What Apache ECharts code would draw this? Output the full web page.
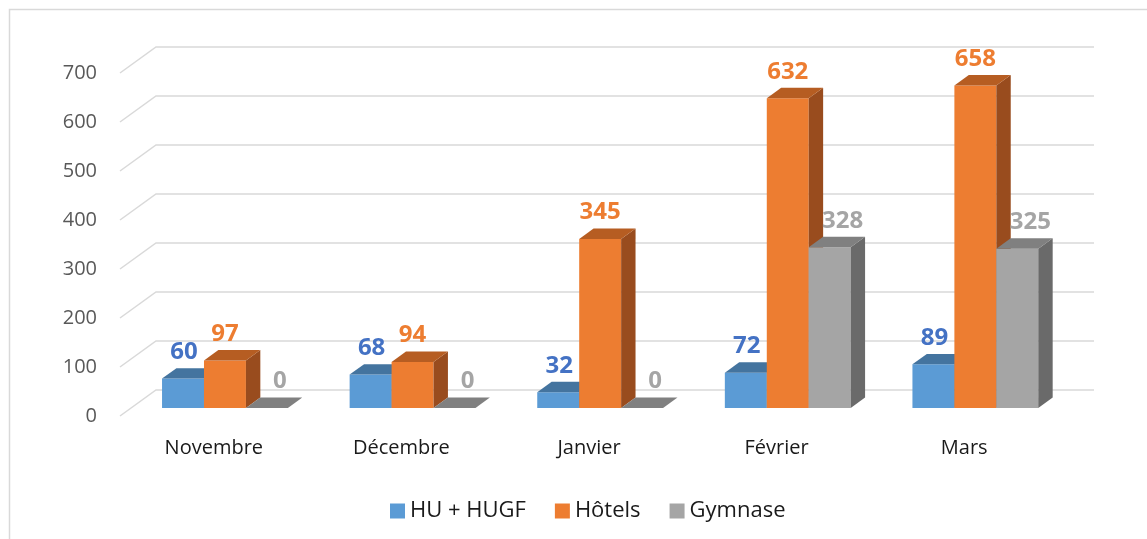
<!DOCTYPE html>
<html>
<head>
<meta charset="utf-8">
<script src="https://cdn.jsdelivr.net/npm/echarts@6/dist/echarts.min.js"></script>
<style>
html,body{margin:0;padding:0;background:#fff}
#main{width:1147px;height:539px}
</style>
</head>
<body>
<div id="main"></div>
<script>
// données
var months = ['Novembre', 'Décembre', 'Janvier', 'Février', 'Mars'];
var huHugf = [60, 68, 32, 72, 89];
var hotels = [97, 94, 345, 632, 658];
var gymnase = [0, 0, 0, 328, 325];
var yTicks = [0, 100, 200, 300, 400, 500, 600, 700];

// perspective (profondeur du plan arrière)
var DX = 36, DY = 26;
var F0 = 0.31;   // début des barres dans la profondeur
var FD = 0.40;   // épaisseur des barres
var BAR_W = 0.2236;

var font = '"Open Sans", sans-serif';

function gridRender(params, api) {
    var cs = params.coordSys;
    var p = api.coord([0, api.value(1)]);
    var x = cs.x, y = p[1];
    return {
        type: 'polyline',
        shape: { points: [[x, y], [x + DX, y - DY], [x + cs.width + DX, y - DY]] },
        style: { stroke: '#D9D9D9', lineWidth: 1.5, fill: null }
    };
}

function barRender(k, faces, labelColor, labelDx) {
    return function (params, api) {
        var i = api.value(0), v = api.value(1);
        var bw = api.size([1, 0])[0];
        var w = bw * BAR_W;
        var base = api.coord([i, 0]);
        var top = api.coord([i, v]);
        var x0 = base[0] - 1.5 * w + k * w + F0 * DX;
        var x1 = x0 + w;
        var yb = base[1] - F0 * DY;
        var yt = top[1] - F0 * DY;
        var dx = FD * DX, dy = FD * DY;
        var z = k * 10;
        var children = [];
        if (yb - yt > 0.5) {
            children.push({
                type: 'rect', z2: z + 1,
                shape: { x: x0, y: yt, width: w, height: yb - yt },
                style: { fill: faces[0] }
            });
            children.push({
                type: 'polygon', z2: z + 2,
                shape: { points: [[x1, yt], [x1 + dx, yt - dy], [x1 + dx, yb - dy], [x1, yb]] },
                style: { fill: faces[2] }
            });
        }
        children.push({
            type: 'polygon', z2: z + 3,
            shape: { points: [[x0, yt], [x1, yt], [x1 + dx, yt - dy], [x0 + dx, yt - dy]] },
            style: { fill: faces[1] }
        });
        children.push({
            type: 'text', z2: 100,
            style: {
                x: x0 + w / 2 + labelDx, y: yt - dy - 4,
                text: String(v),
                fill: labelColor,
                font: 'bold 24px ' + font,
                textAlign: 'center', textVerticalAlign: 'bottom'
            }
        });
        return { type: 'group', children: children };
    };
}

function toData(arr) {
    return arr.map(function (v, i) { return [i, v]; });
}

var myChart = echarts.init(document.getElementById('main'));

var option = {
    animation: false,
    backgroundColor: '#fff',
    graphic: [{
        type: 'rect',
        shape: { x: 9.5, y: 9.5, width: 1300, height: 700 },
        style: { fill: null, stroke: '#D9D9D9', lineWidth: 1.5 },
        silent: true
    }],
    grid: { left: 120, right: 89, top: 73, bottom: 123 },
    legend: {
        left: 385, top: 495,
        icon: 'rect',
        itemWidth: 15, itemHeight: 15, itemGap: 29,
        textStyle: { fontSize: 22, color: '#1a1a1a', fontFamily: font },
        data: ['HU + HUGF', 'Hôtels', 'Gymnase']
    },
    xAxis: {
        type: 'category',
        data: months,
        axisLine: { show: false },
        axisTick: { show: false },
        splitLine: { show: false },
        axisLabel: { fontSize: 20, color: '#1a1a1a', margin: 22, fontFamily: font }
    },
    yAxis: {
        type: 'value',
        min: 0, max: 700, interval: 100,
        axisLine: { show: false },
        axisTick: { show: false },
        splitLine: { show: false },
        axisLabel: { fontSize: 20, color: '#595959', margin: 23, fontFamily: font }
    },
    series: [
        {
            type: 'custom', z: 1, silent: true,
            data: yTicks.map(function (v) { return [0, v]; }),
            renderItem: gridRender
        },
        {
            name: 'HU + HUGF', type: 'custom', z: 2,
            itemStyle: { color: '#5B9BD5' },
            data: toData(huHugf),
            renderItem: barRender(0, ['#5B9BD5', '#44749F', '#3A6690'], '#4472C4', 1)
        },
        {
            name: 'Hôtels', type: 'custom', z: 2,
            itemStyle: { color: '#ED7D31' },
            data: toData(hotels),
            renderItem: barRender(1, ['#ED7D31', '#B65D22', '#994C1E'], '#ED7D31', 0)
        },
        {
            name: 'Gymnase', type: 'custom', z: 2,
            itemStyle: { color: '#A5A5A5' },
            data: toData(gymnase),
            renderItem: barRender(2, ['#A5A5A5', '#808080', '#6A6A6A'], '#A5A5A5', 13)
        }
    ]
};

myChart.setOption(option);
</script>
</body>
</html>
